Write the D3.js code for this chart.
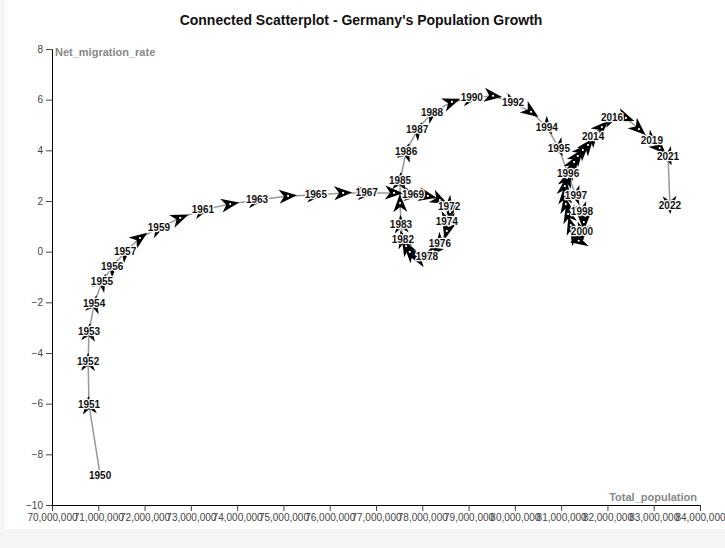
<!DOCTYPE html>
<html>
<head>
<meta charset="utf-8">
<script src="https://cdn.jsdelivr.net/npm/d3@7"></script>
<style>
  html, body { margin: 0; padding: 0; background: #f5f6f8; }
  svg { display: block; }
</style>
</head>
<body>
<svg id="chart" width="725" height="548"></svg>
<script>
// ---- data ----
const years = [1950,1951,1952,1953,1954,1955,1956,1957,1958,1959,1960,1961,1962,1963,1964,1965,1966,1967,1968,1969,
  1970,1971,1972,1973,1974,1975,1976,1977,1978,1979,1980,1981,1982,1983,1984,1985,1986,1987,1988,1989,
  1990,1991,1992,1993,1994,1995,1996,1997,1998,1999,2000,2001,2002,2003,2004,2005,2006,2007,2008,2009,
  2010,2011,2012,2013,2014,2015,2016,2017,2018,2019,2020,2021,2022];
const totalPopulation = [71.04,70.80,70.78,70.80,70.91,71.08,71.30,71.58,71.90,72.31,72.77,73.26,73.85,74.43,75.10,75.70,76.29,76.80,77.39,77.80,
  78.12,78.38,78.58,78.60,78.53,78.53,78.38,78.23,78.10,77.89,77.73,77.65,77.58,77.54,77.52,77.52,77.65,77.89,78.21,78.64,
  79.07,79.53,79.96,80.35,80.69,80.95,81.15,81.32,81.45,81.49,81.45,81.38,81.28,81.21,81.15,81.10,81.08,81.08,81.13,81.19,
  81.28,81.36,81.47,81.58,81.69,81.88,82.10,82.40,82.68,82.96,83.13,83.31,83.35].map(v => v * 1e6);
const netMigrationRate = [-8.82,-6.05,-4.35,-3.17,-2.06,-1.19,-0.60,-0.01,0.54,0.94,1.33,1.65,1.88,2.04,2.20,2.24,2.32,2.32,2.32,2.24,
  2.20,2.04,1.80,1.57,1.21,0.82,0.34,0.03,-0.21,-0.25,-0.01,0.22,0.50,1.09,1.92,2.79,3.94,4.81,5.48,5.91,
  6.07,6.15,5.87,5.52,4.92,4.09,3.07,2.20,1.57,1.17,0.78,0.43,0.66,1.05,1.49,1.88,2.24,2.59,2.91,3.23,
  3.54,3.78,4.01,4.21,4.53,4.92,5.28,5.28,4.84,4.37,4.09,3.74,1.84];
const labelledYears = [1950,1951,1952,1953,1954,1955,1956,1957,1959,1961,1963,1965,1967,1969,1972,1974,1976,1978,
  1982,1983,1985,1986,1987,1988,1990,1992,1994,1995,1996,1997,1998,2000,2014,2016,2019,2021,2022];
const xTickValues = [70e6,71e6,72e6,73e6,74e6,75e6,76e6,77e6,78e6,79e6,80e6,81e6,82e6,83e6,84e6];
const yTickValues = [-10,-8,-6,-4,-2,0,2,4,6,8];

const data = years.map((y, i) => ({ year: y, pop: totalPopulation[i], rate: netMigrationRate[i] }));

const svg = d3.select("#chart");
const font = "'Liberation Sans', Arial, sans-serif";

// white card
svg.append("rect").attr("x", 5).attr("y", 0).attr("width", 720).attr("height", 529).attr("fill", "#fff");

const x = d3.scaleLinear().domain([70e6, 84e6]).range([52, 700]);
const y = d3.scaleLinear().domain([-10, 8]).range([505, 49]);

// title
svg.append("text").attr("x", 361).attr("y", 25).attr("text-anchor", "middle")
  .attr("font-family", font).attr("font-size", 14).attr("font-weight", "bold").attr("fill", "#111")
  .text("Connected Scatterplot - Germany's Population Growth");

// axes
const gx = svg.append("g").attr("transform", `translate(0,${y(-10)})`)
  .call(d3.axisBottom(x).tickValues(xTickValues).tickFormat(d3.format(",")));
const gy = svg.append("g").attr("transform", `translate(${x(70e6)},0)`)
  .call(d3.axisLeft(y).tickValues(yTickValues));
[gx, gy].forEach(g => g.selectAll("text").attr("font-family", font).attr("font-size", 10).attr("fill", "#444"));
gx.selectAll(".tick line").attr("stroke", "#444");
gy.selectAll(".tick line").attr("stroke", "#444");

gy.append("text").attr("x", 3).attr("y", y(8) + 7)
  .attr("font-family", font).attr("font-size", 11).attr("font-weight", "bold").attr("fill", "#888")
  .attr("text-anchor", "start").text("Net_migration_rate");
gx.append("text").attr("x", 697).attr("y", -4)
  .attr("font-family", font).attr("font-size", 11).attr("font-weight", "bold").attr("fill", "#888")
  .attr("text-anchor", "end").text("Total_population");

// arrow marker
const defs = svg.append("defs");
defs.append("marker").attr("id", "arrow")
  .attr("viewBox", "-10 -8 20 16").attr("markerWidth", 20).attr("markerHeight", 16)
  .attr("refX", 0).attr("refY", 0).attr("orient", "auto").attr("markerUnits", "userSpaceOnUse")
  .append("path").attr("d", "M-9,-7 L9,0 L-9,7 L-4,0 Z").attr("fill", "#000");

// connecting line
const line = d3.line().x(d => x(d.pop)).y(d => y(d.rate));
svg.append("path").datum(data).attr("d", line)
  .attr("fill", "none").attr("stroke", "#999").attr("stroke-width", 1.5)
  .attr("marker-mid", "url(#arrow)").attr("marker-end", "url(#arrow)");

// center dots
svg.append("g").selectAll("circle").data(data.slice(1)).join("circle")
  .attr("cx", d => x(d.pop)).attr("cy", d => y(d.rate)).attr("r", 1.1).attr("fill", "#fff");

// labels
svg.append("g").selectAll("text").data(data.filter(d => labelledYears.includes(d.year))).join("text")
  .attr("x", d => x(d.pop)).attr("y", d => y(d.rate)).attr("dy", "0.35em")
  .attr("text-anchor", "middle").attr("font-family", font).attr("font-size", 10).attr("font-weight", "bold")
  .attr("fill", "#111").attr("stroke", "#fff").attr("stroke-width", 2.5).attr("paint-order", "stroke")
  .attr("stroke-linejoin", "round")
  .text(d => d.year);
</script>
</body>
</html>
